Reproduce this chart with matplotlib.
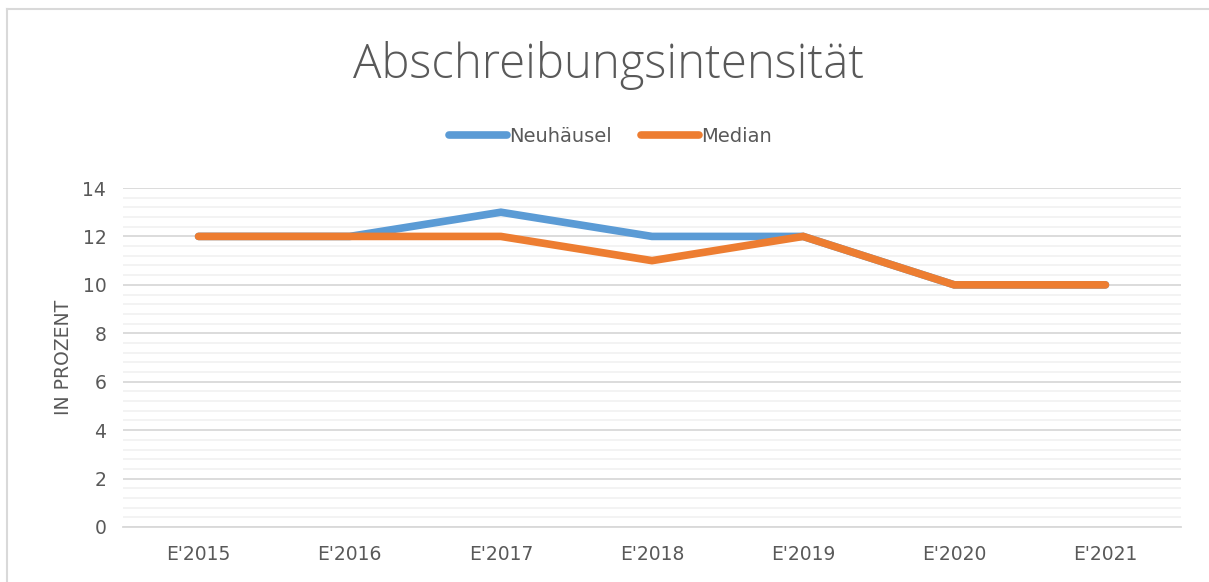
import numpy as np
import matplotlib.pyplot as plt
from matplotlib.lines import Line2D

years = ["E'2015", "E'2016", "E'2017", "E'2018", "E'2019", "E'2020", "E'2021"]
neuhaeusel = [12, 12, 13, 12, 12, 10, 10]
median = [12, 12, 12, 11, 12, 10, 10]

fig = plt.figure(figsize=(12.09, 5.82), dpi=100)
ax = fig.add_axes([123/1209, 1 - 527/582, 1058/1209, 339/582])

x = np.arange(len(years))
ax.plot(x, neuhaeusel, color='#5B9BD5', lw=5.5, solid_capstyle='round', solid_joinstyle='miter', zorder=3)
ax.plot(x, median, color='#ED7D31', lw=5.5, solid_capstyle='round', solid_joinstyle='miter', zorder=4)

ax.set_xlim(-0.5, 6.5)
ax.set_ylim(0, 14)
ax.set_xticks(x)
ax.set_xticklabels(years)
ax.set_yticks(np.arange(0, 15, 2))
ax.set_yticks(np.arange(0, 14, 0.4), minor=True)
ax.grid(True, which='major', axis='y', color='#D9D9D9', lw=1.3)
ax.grid(True, which='minor', axis='y', color='#F2F2F2', lw=1.3)
ax.set_axisbelow(True)
for s in ['top', 'right', 'left']:
    ax.spines[s].set_visible(False)
ax.spines['bottom'].set_color('#D9D9D9')
ax.spines['bottom'].set_linewidth(1.3)
ax.tick_params(which='both', length=0, colors='#595959', labelsize=13.5)
ax.tick_params(axis='x', pad=13)
ax.tick_params(axis='y', pad=12)
ax.set_ylabel('IN PROZENT', color='#595959', fontsize=13.5, labelpad=7)

fig.text(0.503, 1 - 66/582, 'Abschreibungsintensität', ha='center', va='center',
         fontsize=34, color='#595959', family='Open Sans', fontweight='light')

handles = [Line2D([], [], color='#5B9BD5', lw=5.5, solid_capstyle='round'),
           Line2D([], [], color='#ED7D31', lw=5.5, solid_capstyle='round')]
fig.legend(handles, ['Neuhäusel', 'Median'], loc='center', bbox_to_anchor=(0.505, 1 - 136/582),
           ncol=2, frameon=False, fontsize=14, labelcolor='#595959', handlelength=3.0,
           handletextpad=0.1, columnspacing=1.5)

# chart border
fig.add_artist(Line2D([7/1209, 7/1209], [0, 1 - 9/582], color='#D9D9D9', lw=1.5))
fig.add_artist(Line2D([7/1209, 1], [1 - 9/582, 1 - 9/582], color='#D9D9D9', lw=1.5))

fig.savefig('out.png', dpi=100)
